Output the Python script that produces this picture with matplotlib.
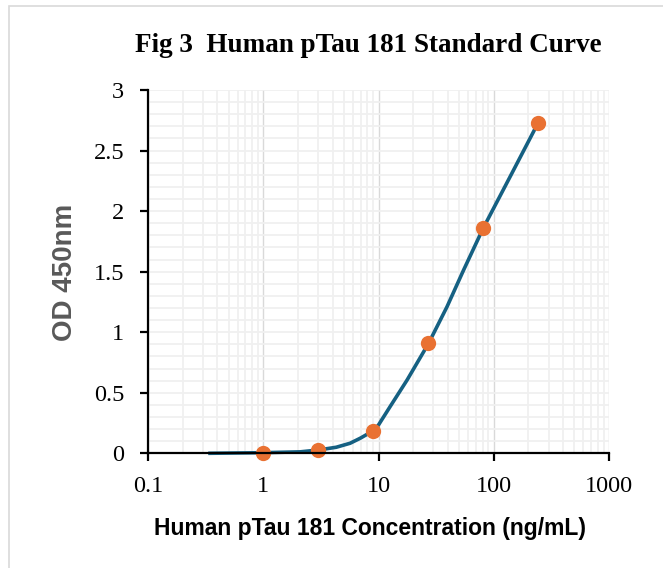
import matplotlib
matplotlib.use("Agg")
import matplotlib.pyplot as plt
from matplotlib.patches import Rectangle
from matplotlib.ticker import LogLocator, MultipleLocator, FixedLocator, FixedFormatter

# standard points (3-fold dilution series)
conc = [1, 3, 9, 27, 81, 243]
od = [0.0, 0.028, 0.188, 0.91, 1.857, 2.73]

# fitted curve
fit_conc = [0.333, 1, 2.09, 3, 4.3, 5.67, 6.93, 9.05, 10, 12.6, 17.7, 27.2, 39.3, 54.8, 80.9, 139.7, 243]
fit_od = [0.0, 0.005, 0.012, 0.027, 0.05, 0.083, 0.124, 0.187, 0.234, 0.385, 0.605, 0.908, 1.21, 1.514, 1.858, 2.29, 2.73]

x_ticks = [0.1, 1, 10, 100, 1000]
x_tick_labels = ["0.1", "1", "10", "100", "1000"]
y_ticks = [0, 0.5, 1, 1.5, 2, 2.5, 3]
y_tick_labels = ["0", "0.5", "1", "1.5", "2", "2.5", "3"]

title = "Fig 3  Human pTau 181 Standard Curve"
x_label = "Human pTau 181 Concentration (ng/mL)"
y_label = "OD 450nm"

line_color = "#156082"
point_color = "#E97132"

fig = plt.figure(figsize=(6.63, 5.68), dpi=100)
ax = fig.add_axes([148 / 663, 1 - 453.3 / 568, (609 - 148) / 663, (453.3 - 90) / 568])

# light frame around the chart (cut by the image edge on right/bottom)
fig.patches.append(Rectangle((9 / 663, -0.1), 1.2, 1 - 6 / 568 + 0.1, transform=fig.transFigure,
                             fill=False, edgecolor="#d9d9d9", linewidth=1.2, zorder=0))

ax.set_xscale("log")
ax.set_xlim(0.1, 1000)
ax.set_ylim(0, 3)

# grid
ax.xaxis.set_minor_locator(LogLocator(base=10, subs=range(2, 10)))
ax.yaxis.set_minor_locator(MultipleLocator(0.1))
ax.grid(which="minor", axis="both", color="#f0f0f0", linewidth=1.3, zorder=0)
ax.grid(which="major", axis="y", color="#f0f0f0", linewidth=1.3, zorder=0)
ax.grid(which="major", axis="x", color="#d9d9d9", linewidth=1.0, zorder=0)
ax.set_axisbelow(True)

ax.plot(fit_conc, fit_od, color=line_color, linewidth=2.6, solid_joinstyle="round",
        solid_capstyle="butt", zorder=3, clip_on=False)
ax.plot(conc, od, linestyle="none", marker="o", markersize=11, color=point_color,
        markeredgewidth=0, zorder=4, clip_on=False)

for side in ["top", "right"]:
    ax.spines[side].set_visible(False)
for side in ["left", "bottom"]:
    ax.spines[side].set_linewidth(1.6)
    ax.spines[side].set_color("black")
    ax.spines[side].set_zorder(5)

ax.xaxis.set_major_locator(FixedLocator(x_ticks))
ax.xaxis.set_major_formatter(FixedFormatter(x_tick_labels))
ax.yaxis.set_major_locator(FixedLocator(y_ticks))
ax.yaxis.set_major_formatter(FixedFormatter(y_tick_labels))
ax.tick_params(which="minor", length=0)
ax.tick_params(which="major", direction="out", length=6, width=1.6, color="black")
ax.tick_params(axis="x", pad=10)
ax.tick_params(axis="y", pad=11)
for lab in ax.get_xticklabels() + ax.get_yticklabels():
    lab.set_fontfamily("Liberation Serif")
    lab.set_fontsize(17.5)

fig.text(368 / 663, 1 - 46 / 568, title, ha="center", va="center",
         family="Liberation Serif", fontweight="bold", fontsize=19.5)
fig.text(370 / 663, 1 - 529 / 568, x_label, ha="center", va="center",
         family="Liberation Sans", fontweight="bold", fontsize=16.5)
fig.text(65 / 663, 1 - 272 / 568, y_label, ha="center", va="center", rotation=90,
         family="Liberation Sans", fontweight="bold", fontsize=20, color="#595959")

fig.savefig("out.png", dpi=100)
